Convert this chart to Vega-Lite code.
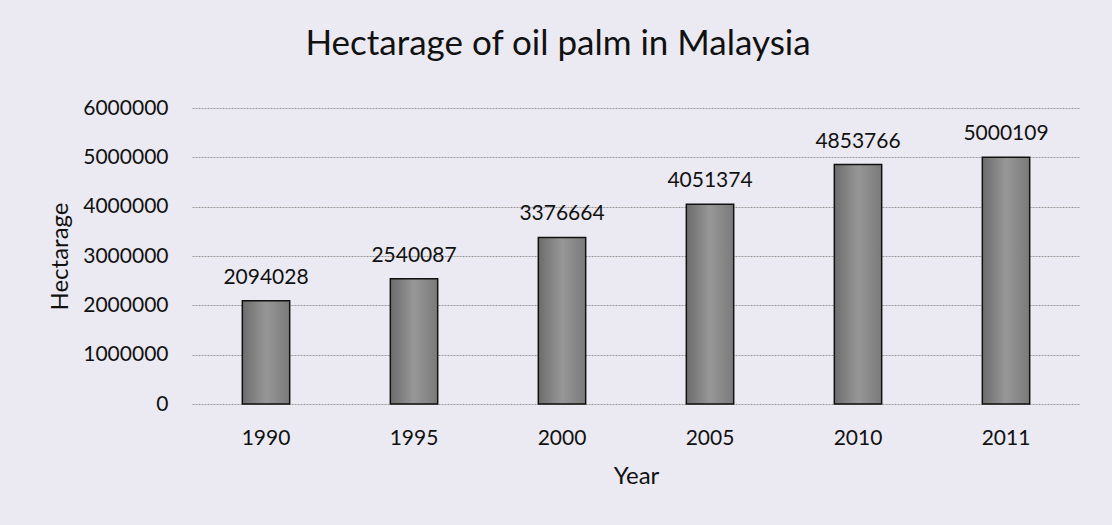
{
  "$schema": "https://vega.github.io/schema/vega-lite/v6.json",
  "autosize": {"type": "none"},
  "width": 888,
  "height": 296,
  "padding": {"left": 192, "top": 108, "right": 32, "bottom": 121},
  "background": "#ebeaf2",
  "title": {
    "text": "Hectarage of oil palm in Malaysia",
    "font": "Lato",
    "fontSize": 35,
    "fontWeight": "normal",
    "color": "#111111",
    "anchor": "middle",
    "frame": "group",
    "dx": -78,
    "offset": 35
  },
  "data": {
    "values": [
      {"Year": "1990", "Hectarage": 2094028},
      {"Year": "1995", "Hectarage": 2540087},
      {"Year": "2000", "Hectarage": 3376664},
      {"Year": "2005", "Hectarage": 4051374},
      {"Year": "2010", "Hectarage": 4853766},
      {"Year": "2011", "Hectarage": 5000109}
    ]
  },
  "config": {
    "view": {"stroke": null},
    "font": "Lato",
    "axis": {
      "labelFont": "Lato",
      "titleFont": "Lato",
      "labelColor": "#111111",
      "titleColor": "#111111",
      "labelFontSize": 21,
      "titleFontSize": 24,
      "titleFontWeight": "normal",
      "domain": false,
      "ticks": false
    }
  },
  "encoding": {
    "x": {
      "field": "Year",
      "type": "ordinal",
      "scale": {"paddingInner": 0.68, "paddingOuter": 0.34},
      "axis": {"labelAngle": 0, "labelPadding": 23, "titlePadding": 16, "grid": false}
    },
    "y": {
      "field": "Hectarage",
      "type": "quantitative",
      "scale": {"domain": [0, 6000000], "nice": false},
      "axis": {
        "values": [0, 1000000, 2000000, 3000000, 4000000, 5000000, 6000000],
        "format": "d",
        "labelPadding": 24,
        "titlePadding": 10,
        "grid": true,
        "gridColor": "#999999",
        "gridDash": [2, 1],
        "gridWidth": 1
      }
    }
  },
  "layer": [
    {
      "mark": {
        "type": "bar",
        "stroke": "#111111",
        "strokeWidth": 1.5,
        "color": {
          "gradient": "linear",
          "x1": 0, "x2": 1, "y1": 0, "y2": 0,
          "stops": [
            {"offset": 0, "color": "#6c6c6c"},
            {"offset": 0.5, "color": "#979797"},
            {"offset": 1, "color": "#7a7a7a"}
          ]
        }
      }
    },
    {
      "mark": {"type": "text", "font": "Lato", "fontSize": 21, "color": "#111111", "baseline": "alphabetic", "dy": -17},
      "encoding": {"text": {"field": "Hectarage", "type": "quantitative", "format": "d"}}
    }
  ]
}
